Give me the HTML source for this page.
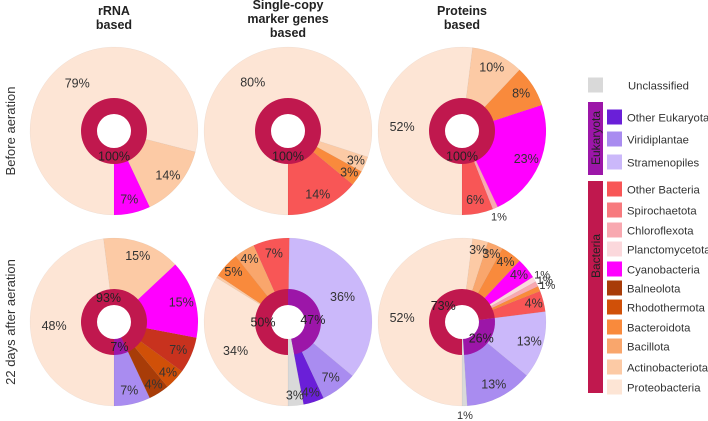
<!DOCTYPE html>
<html><head><meta charset="utf-8"><style>
body{margin:0;background:#fff;width:708px;height:421px;overflow:hidden}
svg{display:block;font-family:"Liberation Sans",sans-serif}
</style></head><body>
<svg id="chart" width="708" height="421" xmlns="http://www.w3.org/2000/svg">
<g font-weight="bold" font-size="12.5" fill="#222" text-anchor="middle">
<text x="114" y="15">rRNA</text><text x="114" y="29">based</text>
<text x="288" y="9">Single-copy</text><text x="288" y="23">marker genes</text><text x="288" y="37">based</text>
<text x="462" y="15">Proteins</text><text x="462" y="29">based</text>
</g>
<g font-size="13" fill="#333" text-anchor="middle">
<text transform="translate(15,131) rotate(-90)">Before aeration</text>
<text transform="translate(15,322) rotate(-90)">22 days after aeration</text>
</g>
<g id="pies"></g>
<g id="legend" font-size="11.3" fill="#333"></g>
</svg>
<script>
const C={unc:'#d9d9d9',oeu:'#6a1fd8',vir:'#a98cf0',str:'#cbb8fa',oba:'#f85656',spi:'#f77a7e',chl:'#f8a8b0',pla:'#fbd8dc',cya:'#ff00ff',bal:'#a83c08',rho:'#d05008',bac:'#f98a3c',bcl:'#f9a66c',act:'#fccaa5',pro:'#fde5d5',red:'#c8321e'};
const legendNames=['Unclassified','Other Eukaryota','Viridiplantae','Stramenopiles','Other Bacteria','Spirochaetota','Chloroflexota','Planctomycetota','Cyanobacteria','Balneolota','Rhodothermota','Bacteroidota','Bacillota','Actinobacteriota','Proteobacteria'];
const legendKeys=['unc','oeu','vir','str','oba','spi','chl','pla','cya','bal','rho','bac','bcl','act','pro'];
// pie data: categories and values, ordered from bottom going toward the right
const p1Cats=['cya','act','pro'];const p1Vals=[7,14,79];
const p2Cats=['oba','bac','act','pro'];const p2Vals=[14,3,3,80];
const p3Cats=['oba','chl','cya','bac','act','pro'];const p3Vals=[6,1,23,8,10,52];
const p4Cats=['vir','bal','rho','red','cya','act','pro'];const p4Vals=[7,4,4,7,15,15,48];
const p5Cats=['unc','oeu','vir','str','oba','bcl','bac','act','pro'];const p5Vals=[3,4,7,36,7,4,5,0.5,34];
const p6Cats=['unc','vir','str','oba','bac','chl','pla','cya','bac','bcl','act','pro'];const p6Vals=[1,13,13,4,1,1,1,4,4,3,3,52];
const ringP1=['bact'];const ringV1=[100];
const ringP4=['euk','bact'];const ringV4=[7,93];
const ringP5=['unc','euk','bact'];const ringV5=[3,47,50];
const ringP6=['unc','euk','bact'];const ringV6=[1,26,73];
const RC={bact:'#c0184e',euk:'#9c16a8',unc:'#d9d9d9'};
const NS='http://www.w3.org/2000/svg';
function el(t,a,p){const e=document.createElementNS(NS,t);for(const k in a)e.setAttribute(k,a[k]);p.appendChild(e);return e;}
function pt(cx,cy,r,deg){const a=deg*Math.PI/180;return [cx+r*Math.sin(a),cy-r*Math.cos(a)];}
function wedge(cx,cy,r,a0,a1){
  if(Math.abs(a0-a1)>=359.99){return `M${cx-r},${cy}a${r},${r} 0 1,0 ${2*r},0a${r},${r} 0 1,0 ${-2*r},0Z`;}
  const L=(a0-a1)>180?1:0;const [x1,y1]=pt(cx,cy,r,a0),[x2,y2]=pt(cx,cy,r,a1);
  return `M${cx},${cy}L${x1},${y1}A${r},${r} 0 ${L},0 ${x2},${y2}Z`;}
const G=document.getElementById('pies');
function pie(name,cx,cy,cats,vals,rc,rv){
  const g=el('g',{},G);
  
  
  const R=84,tot=vals.reduce((a,b)=>a+b,0);let cum=0;const labels=[];
  cats.forEach((c,i)=>{const a0=180-cum/tot*360;cum+=vals[i];const a1=180-cum/tot*360;
    const p=el('path',{d:wedge(cx,cy,R,a0,a1),fill:C[c],stroke:'rgba(0,0,0,0.06)','stroke-width':0.5},g);
    
    
    if(vals[i]>=1){const m=(a0+a1)/2;const r=vals[i]<=1.5?R+9:(vals[i]>=30?60:(vals[i]<6?74:70));labels.push([pt(cx,cy,r,m),vals[i]]);}
  });
  const rt=rv.reduce((a,b)=>a+b,0);cum=0;const rl=[];
  rc.forEach((c,i)=>{const a0=180-cum/rt*360;cum+=rv[i];const a1=180-cum/rt*360;
    const p=el('path',{d:wedge(cx,cy,33,a0,a1),fill:RC[c]},g);
    
    
    if(c!=='unc'){let m=(a0+a1)/2;if(rv[i]>=100)m=180;rl.push([pt(cx,cy,25,m),rv[i]]);}
  });
  const h=el('circle',{cx:cx,cy:cy,r:17,fill:'#fff'},g);
  
  
  labels.forEach(([[x,y],v])=>{const t=el('text',{x:x,y:y+4,'font-size':v<=1.5?11:12.5,fill:'#333','text-anchor':'middle'},g);t.textContent=Math.round(v)+'%';
      
      });
  rl.forEach(([[x,y],v])=>{const t=el('text',{x:x,y:y+4.5,'font-size':12.5,fill:'#222','text-anchor':'middle'},g);t.textContent=v+'%';
      
      });
}
pie('pie-rrna-before',114,131,p1Cats,p1Vals,ringP1,ringV1);
pie('pie-single-copy-before',288,131,p2Cats,p2Vals,ringP1,ringV1);
pie('pie-proteins-before',462,131,p3Cats,p3Vals,ringP1,ringV1);
pie('pie-rrna-after',114,322,p4Cats,p4Vals,ringP4,ringV4);
pie('pie-single-copy-after',288,322,p5Cats,p5Vals,ringP5,ringV5);
pie('pie-proteins-after',462,322,p6Cats,p6Vals,ringP6,ringV6);
// legend
const LG=document.getElementById('legend');
const rowsY=[85,117,139,162,189,210,230,249,269,288,307,327,346,367,387];
legendNames.forEach((n,i)=>{const y=rowsY[i];const bx=i===0?588:607;
  const r=el('rect',{x:bx,y:y-7.5,width:15,height:15,fill:C[legendKeys[i]]},LG);
  
  
  const t=el('text',{x:i===0?628:627,y:y+4.5},LG);t.textContent=n;
  
  });
const eb=el('rect',{x:588,y:102,width:15,height:73,fill:'#9c16a8'},LG);


const bb=el('rect',{x:588,y:181,width:15,height:212,fill:'#c0184e'},LG);


const et=el('text',{transform:'translate(600,138) rotate(-90)','text-anchor':'middle','font-size':12,fill:'#222'},LG);et.textContent='Eukaryota';


const bt=el('text',{transform:'translate(600,256) rotate(-90)','text-anchor':'middle','font-size':12,fill:'#222'},LG);bt.textContent='Bacteria';


</script>
</body></html>
